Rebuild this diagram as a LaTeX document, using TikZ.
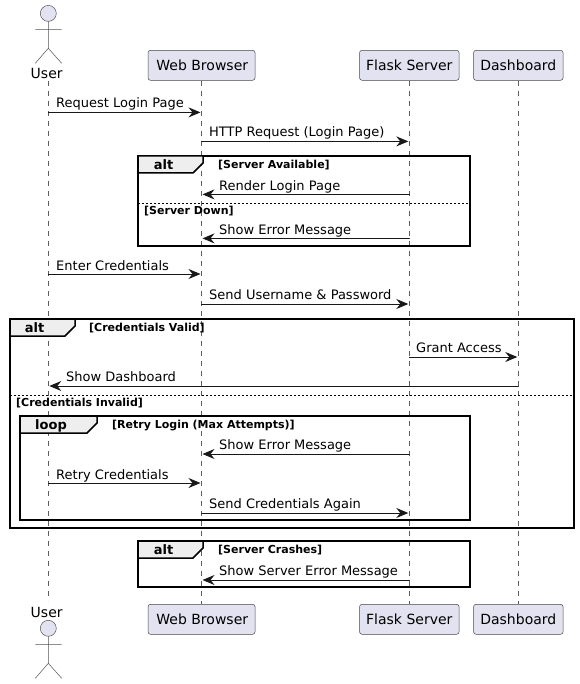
\documentclass[tikz,border=0pt]{standalone}
\usepackage{fontspec}
\setmainfont{DejaVu Sans}
\usetikzlibrary{arrows.meta,calc}
\usepackage{tkz-euclide}
\definecolor{LineClr}{RGB}{24,24,24}
\definecolor{PartClr}{RGB}{226,226,240}
\definecolor{TabClr}{RGB}{238,238,238}
\tikzset{
  PartBox/.style={draw=LineClr!80,line width=.5pt,fill=PartClr,rounded corners=2.5pt,inner sep=0pt,minimum height=30pt,font=\fontsize{14}{16}\selectfont},
  ActorLine/.style={draw=LineClr!75,line width=.5pt},
  ActorText/.style={inner sep=0pt,font=\fontsize{14}{16}\selectfont},
  LifeLine/.style={draw=LineClr!70,line width=.5pt,dash pattern=on 5pt off 5pt},
  MsgLine/.style={draw=LineClr,line width=1pt,shorten >=1pt,-{Stealth[length=12pt,width=10pt,inset=4pt]}},
  MsgText/.style={inner sep=0pt,anchor=base west,font=\fontsize{13}{15}\selectfont},
  FrameBox/.style={draw=black,line width=1.5pt},
  FrameTab/.style={draw=black,line width=1.5pt,fill=TabClr},
  TabText/.style={inner sep=0pt,anchor=base,font=\fontsize{13}{15}\selectfont\bfseries},
  GuardText/.style={inner sep=0pt,anchor=base west,font=\fontsize{11}{13}\selectfont\bfseries},
  SplitLine/.style={draw=black,line width=.75pt,dash pattern=on 2pt off 2pt}
}

\begin{document}
\begin{tikzpicture}[x=1pt,y=1pt]
\useasboundingbox (0,0) rectangle (579,-684);

\tkzDefPoints{48.3/-112.4/A1,201.5/-112.4/B1,201.5/-141.4/B2,409.3/-141.4/C2,409.3/-194.4/C3,201.5/-194.4/B3,409.3/-238.4/C4,201.5/-238.4/B4}
\tkzDefPoints{48.3/-274/A5,201.5/-274/B5,201.5/-304/B6,409.3/-304/C6,409.3/-357/C7,518.3/-357/D7,518.3/-386/D8,48.3/-386/A8}
\tkzDefPoints{409.3/-454/C9,201.5/-454/B9,48.3/-483/A10,201.5/-483/B10,201.5/-513/B11,409.3/-513/C11,409.3/-580/C12,201.5/-580/B12}
\tkzDefPoints{48.3/-81/UserTop,48.3/-601/UserBot}

\node[PartBox,minimum width=107pt] (WebTop) at (201.5,-65.3) {\hspace*{1.5pt}Web Browser};
\node[PartBox,minimum width=99.5pt] (FlaskTop) at (409.3,-65.3) {Flask Server};
\node[PartBox,minimum width=89.5pt] (DashTop) at (518.3,-65.3) {Dashboard};
\node[PartBox,minimum width=107pt] (WebBot) at (201.5,-619.3) {\hspace*{1.5pt}Web Browser};
\node[PartBox,minimum width=99.5pt] (FlaskBot) at (409.3,-619.3) {Flask Server};
\node[PartBox,minimum width=89.5pt] (DashBot) at (518.3,-619.3) {Dashboard};

\draw[LifeLine] (UserTop) -- (UserBot);
\draw[LifeLine] (WebTop) -- (WebBot);
\draw[LifeLine] (FlaskTop) -- (FlaskBot);
\draw[LifeLine] (DashTop) -- (DashBot);

\node[ActorText] (UserLabelTop) at (46.7,-73.3) {User};
\node[ActorText] (UserLabelBot) at (46.7,-612) {User};

\draw[ActorLine,fill=PartClr] (48.3,-13.4) circle (8);
\draw[ActorLine] (48.3,-21.4) -- (48.3,-48.3) (35.3,-29.3) -- (61.7,-29.3) (35.3,-63.3) -- (48.3,-48.3) -- (61.7,-63.3);
\draw[ActorLine,fill=PartClr] (48.3,-628.3) circle (8);
\draw[ActorLine] (48.3,-636.3) -- (48.3,-663.3) (35.3,-644.3) -- (61.7,-644.3) (35.3,-678.3) -- (48.3,-663.3) -- (61.7,-678.3);

\draw[FrameBox] (138,-156) rectangle (470,-246);
\draw[FrameTab] (138,-156) -- (203,-156) -- (203,-163) -- (193,-173) -- (138,-173) -- cycle;
\draw[SplitLine] (138,-203.3) -- (470,-203.3);
\node[TabText] (AltOne) at (163.5,-169.7) {alt};
\node[GuardText] (GuardOne) at (218,-168.7) {[Server Available]};
\node[GuardText] (GuardTwo) at (144,-214.7) {[Server Down]};

\draw[FrameBox] (10,-319) rectangle (574,-528);
\draw[FrameTab] (10,-319) -- (75,-319) -- (75,-326) -- (65,-336) -- (10,-336) -- cycle;
\draw[SplitLine] (10,-395.5) -- (574,-395.5);
\node[TabText] (AltTwo) at (34.5,-332) {alt};
\node[GuardText] (GuardThree) at (89,-331) {[Credentials Valid]};
\node[GuardText] (GuardFour) at (16,-406) {[Credentials Invalid]};

\draw[FrameBox] (20,-416) rectangle (470,-520);
\draw[FrameTab] (20,-416) -- (97,-416) -- (97,-423) -- (87,-433) -- (20,-433) -- cycle;
\node[TabText] (LoopOne) at (51,-429) {loop};
\node[GuardText] (GuardFive) at (112,-428) {[Retry Login (Max Attempts)]};

\draw[FrameBox] (138,-541) rectangle (470,-587);
\draw[FrameTab] (138,-541) -- (203,-541) -- (203,-548) -- (193,-558) -- (138,-558) -- cycle;
\node[TabText] (AltThree) at (163.5,-554.7) {alt};
\node[GuardText] (GuardSix) at (218,-553.7) {[Server Crashes]};

\tkzDrawSegments[MsgLine](A1,B1 B2,C2 C3,B3 C4,B4 A5,B5 B6,C6 C7,D7 D8,A8 C9,B9 A10,B10 B11,C11 C12,B12)

\node[MsgText] (MsgOne) at (56,-107.7) {Request Login Page};
\node[MsgText] (MsgTwo) at (209,-136.7) {HTTP Request (Login Page)};
\node[MsgText] (MsgThree) at (219,-190.7) {Render Login Page};
\node[MsgText] (MsgFour) at (219,-234.7) {Show Error Message};
\node[MsgText] (MsgFive) at (56,-270) {Enter Credentials};
\node[MsgText] (MsgSix) at (209,-299) {Send Username \& Password};
\node[MsgText] (MsgSeven) at (416,-352) {Grant Access};
\node[MsgText] (MsgEight) at (66,-381) {Show Dashboard};
\node[MsgText] (MsgNine) at (219,-449) {Show Error Message};
\node[MsgText] (MsgTen) at (56,-479) {Retry Credentials};
\node[MsgText] (MsgEleven) at (209,-508) {Send Credentials Again};
\node[MsgText] (MsgTwelve) at (219,-575) {Show Server Error Message};

\end{tikzpicture}
\end{document}
